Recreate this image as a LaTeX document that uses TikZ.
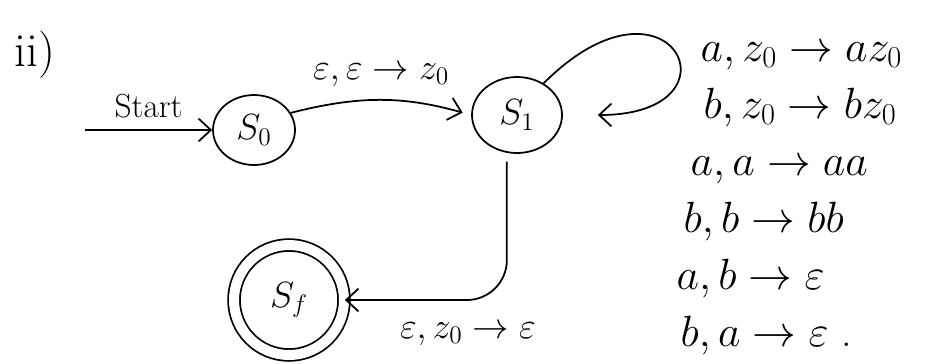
\documentclass[tikz,border=0pt]{standalone}
\usepackage{amsmath}
\usepackage{xcolor}
\usepackage{tikz}
\usetikzlibrary{arrows.meta}
\usetikzlibrary{calc, positioning, shapes.geometric}
\tikzstyle{pstate}=[ellipse, draw, minimum width=1.64cm, minimum height=1.4cm, inner sep=0pt]
\tikzstyle{fstate}=[circle, draw, double, double distance=0.2cm, minimum size=2.2cm, inner sep=0pt]

\begin{document}
\begin{tikzpicture}

\tikzset{>={Straight Barb[length=7pt, width=13pt]}}
\tikzset{every node/.style={font=\fontsize{22}{31}\selectfont}}
\tikzset{every path/.style={line width=1pt}}

\useasboundingbox (0,0) rectangle (18.56,7.26);

% Part number
\node[font=\fontsize{27}{30}\selectfont] (part) at (0.7,6.16) {ii)};

% States of the PDA
\node[pstate] (s0) at (5.08,4.66) {$S_0$};
\node[pstate, minimum width=1.8cm, minimum height=1.52cm] (s1) at (10.34,4.96) {$S_1$};
\node[fstate] (sf) at (5.78,1.26) {$S_f$};
\coordinate (start) at (1.7,4.66);

% Transitions
\draw[->] (start) -- node[above=3pt, font=\fontsize{19}{22}\selectfont] {Start} (s0.west);
\draw[->, shorten >=5pt] (s0.25) to[bend left=15] node[above=4pt] {$\varepsilon, \varepsilon \rightarrow z_0$} (s1.west);
\draw[->, shorten >=0.7cm] (s1.50) .. controls +(45:3.6) and +(0:3.7) .. (s1.east); % loop on S1
\draw[->, rounded corners=0.8cm, shorten <=5pt] (s1.255) |- node[pos=0.62, below=9pt] {$\varepsilon, z_0 \rightarrow \varepsilon$} (sf.east);

% Loop labels
\node[anchor=north west, align=left, font=\fontsize{24}{32.5}\selectfont] (rules) at (13.4,6.55) {%
  \hspace*{0.48cm}$a, z_0 \rightarrow a z_0$\\
  \hspace*{0.54cm}$b, z_0 \rightarrow b z_0$\\
  \hspace*{0.28cm}$a, a \rightarrow aa$\\
  \hspace*{0.14cm}$b, b \rightarrow bb$\\
  $a, b \rightarrow \varepsilon$\\
  \hspace*{0.08cm}$b, a \rightarrow \varepsilon$ .};

\end{tikzpicture}
\end{document}
